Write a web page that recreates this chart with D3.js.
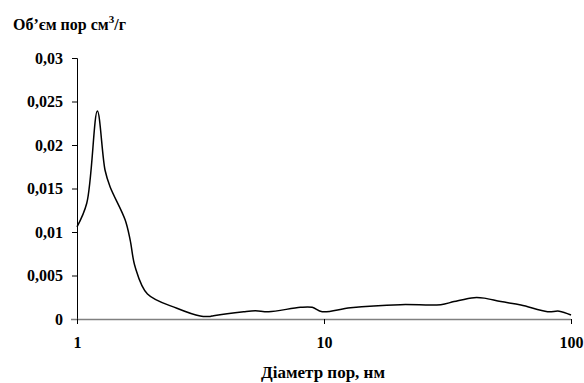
<!DOCTYPE html>
<html>
<head>
<meta charset="utf-8">
<script src="https://cdn.jsdelivr.net/npm/d3@7"></script>
<style>
  body { margin: 0; background: #fff; }
  svg text { font-family: "Liberation Serif", "Times New Roman", serif; font-weight: bold; fill: #000; }
</style>
</head>
<body>
<svg id="chart" width="584" height="383"></svg>
<script>
// pore diameter, nm
const diameters = [1, 1.095, 1.209, 1.299, 1.361, 1.566, 1.641, 1.719, 1.929, 2.538, 3.155, 3.46,
    3.57, 4.73, 5.27, 5.97, 8.03, 8.96, 9.83, 12.8, 20.4, 29.7, 33.6, 40.5, 44.5, 52, 62.7, 80.4, 89.6, 100];
// pore volume, cm3/g
const volumes = [0.0106, 0.0133, 0.0239, 0.0171, 0.0152, 0.0114, 0.0091, 0.0060, 0.00287, 0.00123, 0.00034, 0.0003,
    0.00038, 0.00084, 0.00095, 0.00084, 0.00134, 0.00134, 0.00084, 0.0013, 0.00165, 0.00165, 0.002, 0.00245, 0.0024, 0.002, 0.00161, 0.00084, 0.0009, 0.00046];
const xTicks = [1, 10, 100];
const yTicks = [0, 0.005, 0.01, 0.015, 0.02, 0.025, 0.03];

const data = diameters.map((d, i) => [d, volumes[i]]);

var svg = d3.select('#chart');
var plotLeft = 77, plotRight = 571, plotTop = 58, plotBottom = 319;

var xScale = d3.scaleLog()
    .domain([1, 100])
    .range([plotLeft, plotRight]);

var yScale = d3.scaleLinear()
    .domain([0, 0.03])
    .range([plotBottom, plotTop]);

const fmt = v => v === 0 ? '0' : String(+v.toFixed(3)).replace('.', ',');

// y axis
var yAxis = svg.append('g')
    .attr('transform', `translate(${plotLeft},0)`)
    .call(d3.axisLeft(yScale).tickValues(yTicks).tickFormat(fmt).tickSize(5).tickPadding(9));
yAxis.select('.domain').attr('stroke', '#000');
yAxis.selectAll('text').style('font-size', '16px');

// x axis
var xAxis = svg.append('g')
    .attr('transform', `translate(0,${plotBottom})`)
    .call(d3.axisBottom(xScale).tickValues(xTicks).tickFormat(d3.format('d')).tickSize(5).tickPadding(13));
xAxis.select('.domain').attr('d', `M${plotLeft - 6},0.5H${plotRight}`).attr('stroke', '#808080').attr('stroke-width', 1.5);
xAxis.selectAll('text').style('font-size', '16px');

// curve
var line = d3.line()
    .x(d => xScale(d[0]))
    .y(d => yScale(d[1]))
    .curve(d3.curveCatmullRom);

svg.append('path')
    .datum(data)
    .attr('fill', 'none')
    .attr('stroke', '#000')
    .attr('stroke-width', 1.5)
    .attr('d', line);

// titles
var title = svg.append('text')
    .attr('x', 13)
    .attr('y', 30)
    .style('font-size', '16px');
title.append('tspan').text('Об’єм пор см');
title.append('tspan').attr('dy', -7).style('font-size', '11px').text('3');
title.append('tspan').attr('dy', 7).text('/г');

svg.append('text')
    .attr('x', 323)
    .attr('y', 378)
    .attr('text-anchor', 'middle')
    .style('font-size', '17px')
    .text('Діаметр пор, нм');
</script>
</body>
</html>
